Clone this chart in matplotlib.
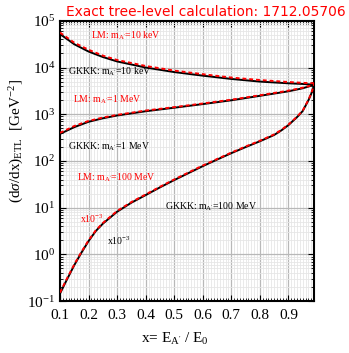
import matplotlib

matplotlib.use("Agg")
import matplotlib.pyplot as plt
import numpy as np
from matplotlib.ticker import FixedLocator, LogLocator, MultipleLocator, NullFormatter

plt.rcParams["font.family"] = "Liberation Serif"
plt.rcParams["mathtext.fontset"] = "custom"
plt.rcParams["mathtext.rm"] = "Liberation Serif"
plt.rcParams["mathtext.it"] = "Liberation Serif:italic"

# energy fraction x = E_A' / E_0
x_light = [0.1, 0.15, 0.2, 0.25, 0.3, 0.4, 0.5, 0.6, 0.7, 0.8, 0.9, 0.95, 0.99]
lm_10kev = [5.6e4, 3.4e4, 2.4e4, 1.8e4, 1.45e4, 1.08e4, 8.6e3, 7.2e3, 6.1e3, 5.4e3, 4.9e3, 4.7e3, 4.6e3]
gkkk_10kev = [5.2e4, 3.15e4, 2.2e4, 1.68e4, 1.35e4, 1.0e4, 8.0e3, 6.7e3, 5.7e3, 5.0e3, 4.6e3, 4.45e3, 4.3e3]
lm_1mev = [400, 560, 720, 850, 970, 1200, 1420, 1700, 2050, 2550, 3200, 3700, 4300]
gkkk_1mev = [380, 530, 690, 820, 940, 1160, 1380, 1650, 1990, 2480, 3100, 3600, 4250]

x_heavy = [0.1, 0.12, 0.15, 0.175, 0.2, 0.225, 0.25, 0.3, 0.35, 0.4, 0.45, 0.5, 0.55, 0.6,
           0.65, 0.7, 0.75, 0.8, 0.825, 0.85, 0.875, 0.9, 0.93, 0.95, 0.97, 0.98, 0.99]
lm_100mev = [0.152, 0.27, 0.61, 1.13, 2.0, 3.25, 4.7, 8.5, 13.2, 19.2, 28.0, 40.2, 56.7, 80.0,
             110, 151, 204, 271, 316, 370, 462, 600, 885, 1195, 2030, 2790, 4320]
gkkk_100mev = [0.145, 0.258, 0.59, 1.09, 1.93, 3.15, 4.55, 8.2, 12.8, 18.6, 27.2, 39.0, 55.0, 77.5,
               107, 147, 198, 264, 308, 360, 450, 585, 865, 1170, 1985, 2740, 4250]

x_ticks = [0.1, 0.2, 0.3, 0.4, 0.5, 0.6, 0.7, 0.8, 0.9]
y_ticks = [1e-1, 1e0, 1e1, 1e2, 1e3, 1e4, 1e5]

fig = plt.figure(figsize=(3.49, 3.53), dpi=100)
ax = fig.add_axes([0.172, 0.147, 0.728, 0.794])

for xs, black, red in [
    (x_light, gkkk_10kev, lm_10kev),
    (x_light, gkkk_1mev, lm_1mev),
    (x_heavy, gkkk_100mev, lm_100mev),
]:
    ax.plot(xs, black, color="black", lw=1.4, zorder=3)
    ax.plot(xs, red, color="red", lw=1.4, ls=(0, (2, 1.5)), zorder=4)

ax.set_yscale("log")
ax.set_xlim(0.1, 0.99)
ax.set_ylim(1e-1, 1e5)

ax.xaxis.set_major_locator(FixedLocator(x_ticks))
ax.xaxis.set_minor_locator(MultipleLocator(0.01))
ax.set_xticklabels([f"{v:.1f}" for v in x_ticks])
ax.yaxis.set_major_locator(FixedLocator(y_ticks))
ax.set_yticklabels([rf"10$^{{{int(np.log10(v))}}}$" for v in y_ticks])
ax.yaxis.set_minor_locator(LogLocator(base=10, subs=np.arange(2, 10), numticks=20))
ax.yaxis.set_minor_formatter(NullFormatter())

ax.grid(which="major", color="#b8b8b8", lw=0.9)
ax.grid(which="minor", color="#e6e6e6", lw=0.6)
ax.set_axisbelow(True)

ax.tick_params(which="both", direction="in", top=True, right=True, labelsize=11)
ax.tick_params(which="major", length=4, width=0.8)
ax.tick_params(which="minor", length=2, width=0.6)
ax.tick_params(axis="x", pad=6)
for s in ax.spines.values():
    s.set_linewidth(1.5)

ax.set_xlabel(r"x= E$_{\rm A'}$ / E$_0$", fontsize=11)
ax.xaxis.set_label_coords(0.45, -0.105)
ax.set_ylabel(r"(d$\sigma$/dx)$_{\rm ETL}$  [GeV$^{-2}$]", fontsize=11)
ax.yaxis.set_label_coords(-0.135, 0.57)

lab = dict(fontsize=7.0, va="center")
ax.text(0.209, 4.8e4, r"LM: m$_{\rm A'}$=10 keV", color="red", **lab)
ax.text(0.128, 8.1e3, r"GKKK: m$_{\rm A'}$=10 keV", color="black", **lab)
ax.text(0.146, 2.0e3, r"LM: m$_{\rm A'}$=1 MeV", color="red", **lab)
ax.text(0.128, 2.0e2, r"GKKK: m$_{\rm A'}$=1 MeV", color="black", **lab)
ax.text(0.160, 44, r"LM: m$_{\rm A'}$=100 MeV", color="red", **lab)
ax.text(0.170, 5.8, r"x10$^{-3}$", color="red", **lab)
ax.text(0.468, 10.5, r"GKKK: m$_{\rm A'}$=100 MeV", color="black", **lab)
ax.text(0.265, 2.0, r"x10$^{-3}$", color="black", **lab)

fig.text(206 / 349, 1 - 12 / 353, "Exact tree-level calculation: 1712.05706",
         color="red", fontsize=9.9, family="DejaVu Sans", ha="center", va="center")

fig.savefig("out.png", dpi=100)
